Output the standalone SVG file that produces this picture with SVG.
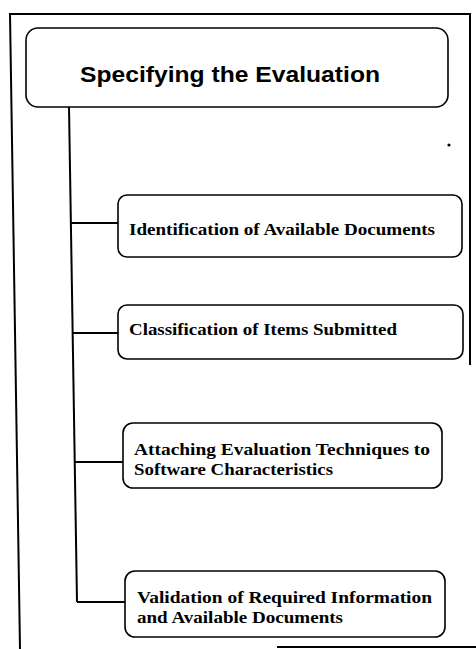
<svg xmlns="http://www.w3.org/2000/svg" width="476" height="649" viewBox="0 0 476 649">
  <style>
    .frame { fill: none; stroke: #000; stroke-width: 2; }
    .box { fill: #fff; stroke: #000; stroke-width: 1.6; }
    .link { fill: none; stroke: #000; stroke-width: 2; }
    .title { font-family: "Liberation Sans", Arial, sans-serif; font-weight: bold; font-size: 22px; fill: #000; }
    .label { font-family: "Liberation Serif", "Times New Roman", serif; font-weight: bold; font-size: 17px; fill: #000; }
  </style>

  <!-- outer frame -->
  <g id="frame">
    <path class="frame" d="M20,649 L10,14 L470,14 L470,365"/>
    <path class="frame" d="M277,647 L476,647"/>
    <circle cx="449" cy="145" r="1.6" fill="#000"/>
  </g>

  <!-- connectors: trunk and branches -->
  <g id="connectors">
    <path class="link" d="M69,107 L77,602"/>
    <path class="link" d="M71,223 L118,223"/>
    <path class="link" d="M73,333 L118,333"/>
    <path class="link" d="M75,462 L123,462"/>
    <path class="link" d="M77,602 L125,602"/>
  </g>

  <g id="root">
    <rect class="box" x="26" y="28" width="422" height="79" rx="12"/>
    <text class="title" x="80" y="82" textLength="300" lengthAdjust="spacingAndGlyphs">Specifying the Evaluation</text>
  </g>

  <g id="identification">
    <rect class="box" x="118" y="195" width="344" height="62" rx="9"/>
    <text class="label" x="129" y="235" textLength="306" lengthAdjust="spacingAndGlyphs">Identification of Available Documents</text>
  </g>

  <g id="classification">
    <rect class="box" x="118" y="305" width="345" height="54" rx="9"/>
    <text class="label" x="129" y="335" textLength="268" lengthAdjust="spacingAndGlyphs">Classification of Items Submitted</text>
  </g>

  <g id="attaching">
    <rect class="box" x="123" y="423" width="319" height="65" rx="10"/>
    <text class="label" x="134" y="455" textLength="296" lengthAdjust="spacingAndGlyphs">Attaching  Evaluation Techniques to</text>
    <text class="label" x="134" y="475" textLength="199" lengthAdjust="spacingAndGlyphs">Software Characteristics</text>
  </g>

  <g id="validation">
    <rect class="box" x="125" y="571" width="320" height="66" rx="10"/>
    <text class="label" x="137" y="603" textLength="295" lengthAdjust="spacingAndGlyphs">Validation  of Required Information</text>
    <text class="label" x="137" y="623" textLength="206" lengthAdjust="spacingAndGlyphs">and Available Documents</text>
  </g>
</svg>
